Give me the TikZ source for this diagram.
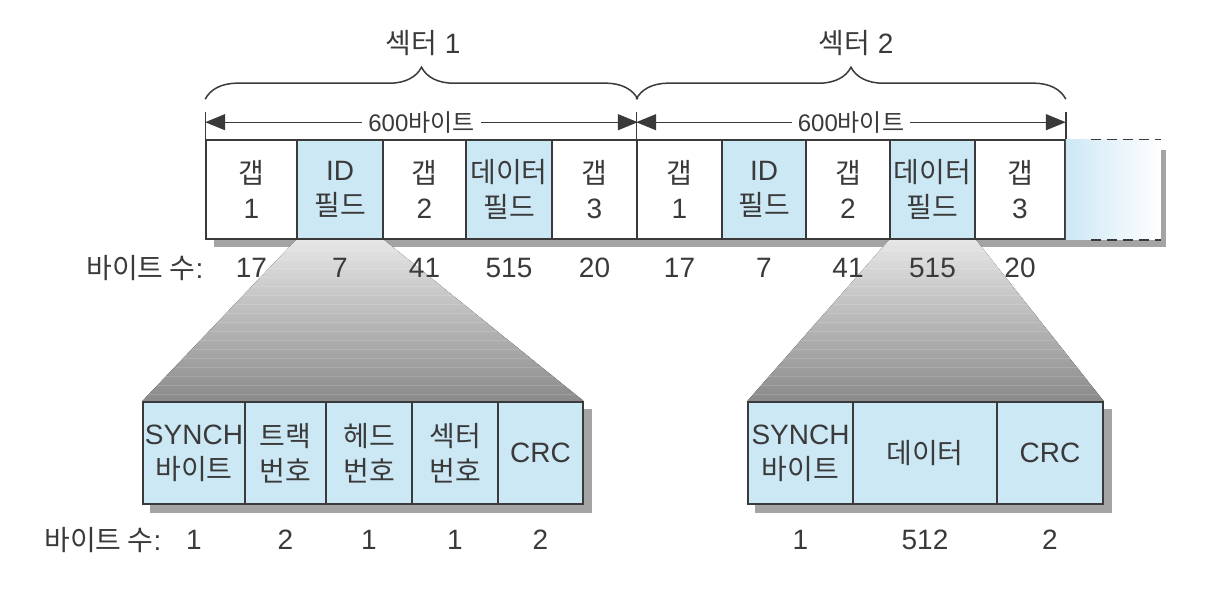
\documentclass[tikz,border=0pt]{standalone}
\usepackage{fontspec}
\setmainfont{Liberation Sans}
\newfontfamily\kr{Noto Sans CJK KR}
\usepackage{tikz}
\usetikzlibrary{arrows.meta,decorations.pathreplacing,backgrounds}

\definecolor{cellblue}{HTML}{CDE8F5}
\definecolor{lineg}{HTML}{3A3A3A}
\definecolor{shadowg}{HTML}{A4A4A4}
\definecolor{fantop}{HTML}{E6E6E6}
\definecolor{fanbot}{HTML}{8A8A8A}
\definecolor{textg}{HTML}{3A3A3A}

\tikzset{
	cell/.style={draw=lineg, line width=1.6pt, inner sep=0pt, minimum height=99pt, align=center, text=textg, font=\fontsize{28}{35}\selectfont},
	whitecell/.style={cell, fill=white},
	bluecell/.style={cell, fill=cellblue},
	lowcell/.style={bluecell, minimum height=102pt},
	num/.style={text=textg, font=\fontsize{28}{30}\selectfont},
	dimlabel/.style={fill=white, inner sep=6pt, text=textg, font=\fontsize{24}{26}\selectfont},
	dim/.style={draw=lineg, line width=1.4pt},
	dimarrow/.style={dim, {Triangle[length=20pt,width=16pt]}-{Triangle[length=20pt,width=16pt]}},
	curly/.style={draw=lineg, line width=1.5pt, decorate, decoration={brace, amplitude=32pt}},
}

\begin{document}
\begin{tikzpicture}[x=1pt,y=1pt]
	\useasboundingbox (0,0) rectangle (1212,-594);
		
		\draw(251.5,-189.5) node[whitecell, minimum width=91pt] (g1) {{\kr 갭}\\1};
		\draw(340,-189.5) node[bluecell, minimum width=86pt] (id1) {ID\\{\kr 필드}};
		\draw(424.5,-189.5) node[whitecell, minimum width=83pt] (g2) {{\kr 갭}\\2};
		\draw(509,-189.5) node[bluecell, minimum width=86pt] (d1) {{\kr 데이터}\\{\kr 필드}};
		\draw(594.5,-189.5) node[whitecell, minimum width=85pt] (g3) {{\kr 갭}\\3};
		\draw(679.5,-189.5) node[whitecell, minimum width=85pt] (h1) {{\kr 갭}\\1};
		\draw(764,-189.5) node[bluecell, minimum width=84pt] (id2) {ID\\{\kr 필드}};
		\draw(848,-189.5) node[whitecell, minimum width=84pt] (h2) {{\kr 갭}\\2};
		\draw(932.5,-189.5) node[bluecell, minimum width=85pt] (d2) {{\kr 데이터}\\{\kr 필드}};
		\draw(1020,-189.5) node[whitecell, minimum width=90pt] (h3) {{\kr 갭}\\3};
		
		\fill[left color=cellblue, right color=white] (h3.north east) rectangle ([xshift=95pt]h3.south east);
		\draw[dim, dash pattern=on 10pt off 6pt] ([xshift=25pt]h3.north east) -- ++(70,0);
		\draw[dim, dash pattern=on 10pt off 6pt] ([xshift=25pt]h3.south east) -- ++(70,0);
		
		\draw(194,-453) node[lowcell, minimum width=102pt] (s1) {SYNCH\\{\kr 바이트}};
		\draw(285.5,-453) node[lowcell, minimum width=81pt] (s2) {{\kr 트랙}\\{\kr 번호}};
		\draw(369,-453) node[lowcell, minimum width=86pt] (s3) {{\kr 헤드}\\{\kr 번호}};
		\draw(455,-453) node[lowcell, minimum width=86pt] (s4) {{\kr 섹터}\\{\kr 번호}};
		\draw(540.5,-453) node[lowcell, minimum width=85pt] (s5) {CRC};
		
		\draw(800.5,-453) node[lowcell, minimum width=105pt] (r1) {SYNCH\\{\kr 바이트}};
		\draw(925,-453) node[lowcell, minimum width=144pt] (r2) {{\kr 데이터}};
		\draw(1050,-453) node[lowcell, minimum width=106pt] (r3) {CRC};
		
		\begin{scope}[on background layer]
		\fill[shadowg] (214,-150) rectangle (1166,-247);
		\fill[shadowg] ([shift={(8pt,-8pt)}]s1.north west) rectangle ([shift={(8pt,-8pt)}]s5.south east);
		\fill[shadowg] ([shift={(8pt,-8pt)}]r1.north west) rectangle ([shift={(8pt,-8pt)}]r3.south east);
		\fill[top color=fantop, bottom color=fanbot] (id1.south west) -- (id1.south east) -- (s5.north east) -- (s1.north west) -- cycle;
		\fill[top color=fantop, bottom color=fanbot] (d2.south west) -- (d2.south east) -- (r3.north east) -- (r1.north west) -- cycle;
		\begin{scope}
		\clip (id1.south west) -- (id1.south east) -- (s5.north east) -- (s1.north west) -- cycle;
		\foreach \y in {-250,-259,...,-400}
			\draw[white, opacity=.15, line width=1pt] (100,\y) -- (620,\y);
		\end{scope}
		\begin{scope}
		\clip (d2.south west) -- (d2.south east) -- (r3.north east) -- (r1.north west) -- cycle;
		\foreach \y in {-250,-259,...,-400}
			\draw[white, opacity=.15, line width=1pt] (700,\y) -- (1140,\y);
		\end{scope}
		\end{scope}
		
		
		\draw[dim] (g1.north west) -- ++(0,27);
		\draw[dim] (h1.north west) -- ++(0,27);
		\draw[dim] (h3.north east) -- ++(0,27);
		\draw[dimarrow] ([yshift=17pt]g1.north west) -- ([yshift=17pt]g3.north east) node[midway, dimlabel] (len1) {600{\kr 바이트}};
		\draw[dimarrow] ([yshift=17pt]h1.north west) -- ([yshift=17pt]h3.north east) node[midway, dimlabel] (len2) {600{\kr 바이트}};
		
		\draw[curly] ([yshift=40pt]g1.north west) -- ([yshift=40pt]g3.north east);
		\draw[curly] ([yshift=40pt]h1.north west) -- ([yshift=40pt]h3.north east);
		\draw(423,-43) node[num] (sec1) {{\kr 섹터} 1};
		\draw(856,-43) node[num] (sec2) {{\kr 섹터} 2};
		
		
		\draw(207,-268) node[num, anchor=east] (cnt1) {{\kr 바이트 수}:};
		\foreach \c/\n in {g1/17, id1/7, g2/41, d1/515, g3/20, h1/17, id2/7, h2/41, d2/515, h3/20}
			\draw([yshift=-78.5pt]\c.center) node[num] (n\c) {\n};
		
		\draw(165,-540) node[num, anchor=east] (cnt2) {{\kr 바이트 수}:};
		\foreach \c/\n in {s1/1, s2/2, s3/1, s4/1, s5/2, r1/1, r2/512, r3/2}
			\draw([yshift=-87pt]\c.center) node[num] (n\c) {\n};
	\end{tikzpicture}
\end{document}
